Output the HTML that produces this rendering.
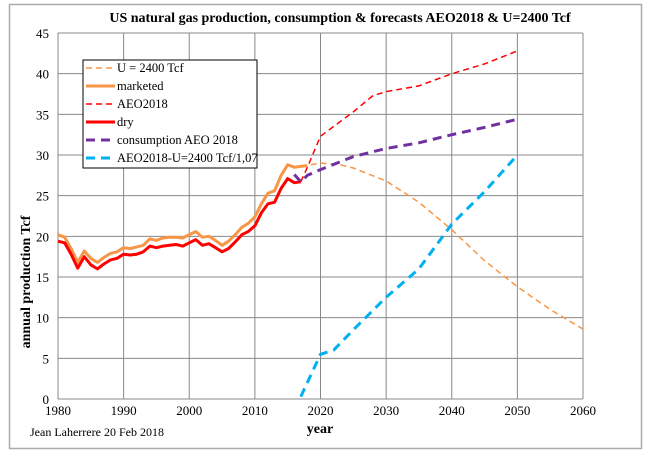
<!DOCTYPE html><html><head><style>body{margin:0;background:#fff}svg{display:block}text{font-family:"Liberation Serif",serif}</style></head><body>
<svg id="s" width="647" height="454" xmlns="http://www.w3.org/2000/svg" font-family="Liberation Serif, serif">
<rect x="9.5" y="4.5" width="632" height="444" fill="#fff" stroke="#aaa" stroke-width="1.5"/>
<g id="grid"></g>
<text x="340" y="22" font-size="14" font-weight="bold" text-anchor="middle">US natural gas production, consumption &amp; forecasts AEO2018 &amp; U=2400 Tcf</text>
<text x="320" y="433" font-size="14" font-weight="bold" text-anchor="middle">year</text>
<text transform="translate(30 282) rotate(-90)" font-size="14" font-weight="bold" text-anchor="middle">annual production Tcf</text>
<text x="30" y="436" font-size="12">Jean Laherrere 20 Feb 2018</text>
<g id="lines"></g>
<rect x="83" y="60" width="174" height="108" fill="#fff" stroke="#000" stroke-width="1"/>
<g font-size="12.5" font-family="Liberation Serif, serif">
<line x1="86" y1="68" x2="115" y2="68" stroke="#f79646" stroke-width="1.5" stroke-dasharray="6,4"/><text x="117" y="72">U = 2400 Tcf</text>
<line x1="86" y1="86" x2="115" y2="86" stroke="#f79646" stroke-width="3"/><text x="117" y="90">marketed</text>
<line x1="86" y1="104" x2="115" y2="104" stroke="#f00" stroke-width="1.5" stroke-dasharray="6,4"/><text x="117" y="108">AEO2018</text>
<line x1="86" y1="122" x2="115" y2="122" stroke="#f00" stroke-width="3"/><text x="117" y="126">dry</text>
<line x1="86" y1="140" x2="115" y2="140" stroke="#7030a0" stroke-width="3" stroke-dasharray="9,6"/><text x="117" y="144">consumption AEO 2018</text>
<line x1="86" y1="158" x2="115" y2="158" stroke="#00b0f0" stroke-width="3" stroke-dasharray="9,6"/><text x="117" y="162">AEO2018-U=2400 Tcf/1,07</text>
</g>
</svg>
<script>
var X=function(y){return 58+(y-1980)*6.5625},Y=function(v){return 399-v*8.133};
var g='';
for(var t=0;t<=45;t+=5){g+='<line x1="58" x2="583" y1="'+Y(t)+'" y2="'+Y(t)+'" stroke="#888" stroke-width="1"/><text x="49" y="'+(Y(t)+5)+'" font-size="13" text-anchor="end">'+t+'</text>';}
for(var y=1980;y<=2060;y+=10){g+='<line y1="'+Y(45)+'" y2="'+Y(0)+'" x1="'+X(y)+'" x2="'+X(y)+'" stroke="#888" stroke-width="1"/><text x="'+X(y)+'" y="415" font-size="13" text-anchor="middle">'+y+'</text>';}
document.getElementById('grid').innerHTML=g;
function p(d,c,w,da){var s='';for(var i=0;i<d.length;i+=2)s+=(i?'L':'M')+X(d[i]).toFixed(1)+' '+Y(d[i+1]).toFixed(1);return '<path d="'+s+'" fill="none" stroke="'+c+'" stroke-width="'+w+'"'+(da?' stroke-dasharray="'+da+'"':'')+' stroke-linejoin="round"/>';}
var m=[20.2,19.9,18.5,16.8,18.2,17.3,16.8,17.4,17.9,18.1,18.6,18.5,18.7,18.9,19.7,19.5,19.8,19.9,19.9,19.8,20.2,20.6,19.9,20.0,19.5,18.9,19.4,20.2,21.1,21.6,22.4,24.0,25.3,25.6,27.5,28.8,28.5,28.6,28.7];
var dr=[19.4,19.2,17.8,16.1,17.5,16.5,16.0,16.6,17.1,17.3,17.8,17.7,17.8,18.1,18.8,18.6,18.8,18.9,19.0,18.8,19.2,19.6,18.9,19.1,18.6,18.1,18.5,19.3,20.2,20.6,21.3,22.9,24.0,24.2,25.9,27.1,26.6,26.7];
function ser(a){var r=[];a.forEach(function(v,i){r.push(1980+i,v)});return r;}
var l='';
l+=p([2017,28.6,2020,29,2023,28.8,2025,28.4,2030,26.8,2035,24.2,2040,20.8,2045,17.0,2050,13.8,2055,11,2060,8.6],'#f79646',1.5,'6,4');
l+=p(ser(m),'#f79646',3);
l+=p([2017,26.7,2018,28.5,2020,32.3,2022,33.5,2025,35.3,2028,37.3,2030,37.8,2035,38.5,2040,40.0,2045,41.2,2050,42.8],'#f00',1.5,'6,4');
l+=p(ser(dr),'#f00',3);
l+=p([2016,27.6,2017,26.7,2018,27.5,2020,28.2,2025,29.8,2030,30.8,2035,31.5,2040,32.5,2045,33.4,2050,34.4],'#7030a0',3,'9,6');
l+=p([2017,0.3,2020,5.5,2022,6,2025,8.5,2030,12.5,2035,16,2040,21.5,2045,25.5,2050,30],'#00b0f0',3,'9,6');
document.getElementById('lines').innerHTML=l;
</script>
</body></html>
